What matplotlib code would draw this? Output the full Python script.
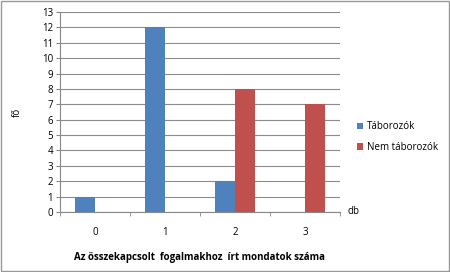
import numpy as np
import matplotlib
matplotlib.use('Agg')
import matplotlib.pyplot as plt
from matplotlib.patches import Rectangle

categories = ['0', '1', '2', '3']
taborozok = [1, 12, 2, 0]
nem_taborozok = [0, 0, 8, 7]

plt.rcParams['font.family'] = ['Open Sans', 'DejaVu Sans']

fig = plt.figure(figsize=(4.5, 2.72), dpi=100)
ax = fig.add_axes([60 / 450, 1 - 212 / 272, 280 / 450, 200 / 272])

x = np.arange(len(categories))
w = 0.286
ax.bar(x - w / 2, taborozok, w, color='#4F81BD', label='Táborozók', zorder=3)
ax.bar(x + w / 2, nem_taborozok, w, color='#C0504D', label='Nem táborozók', zorder=3)

ax.set_xlim(-0.5, 3.5)
ax.set_ylim(0, 13)
ax.set_yticks(range(0, 14))
ax.tick_params(axis='y', labelsize=7, length=3, color='#888888', pad=2)
ax.set_xticks(x)
ax.set_xticklabels(categories, fontsize=7)
ax.tick_params(axis='x', length=0, pad=11)
ax.set_xticks(np.arange(-0.5, 4.0, 1), minor=True)
ax.tick_params(axis='x', which='minor', length=3, color='#888888')

ax.grid(axis='y', color='#8c8c8c', linewidth=0.8, zorder=0)
for s in ['top', 'right']:
    ax.spines[s].set_visible(False)
ax.spines['left'].set_color('#888888')
ax.spines['bottom'].set_color('#888888')

ax.set_ylabel('fő', fontsize=7, labelpad=14)
ax.set_xlabel('Az összekapcsolt  fogalmakhoz  írt mondatok száma',
              fontsize=7, fontweight='bold', labelpad=10)
ax.text(1.025, 0.0, 'db', transform=ax.transAxes, fontsize=7, va='center', ha='left')

ax.legend(loc='center left', bbox_to_anchor=(1.03, 0.375), frameon=False,
          fontsize=7, handlelength=0.6, handleheight=0.6, labelspacing=1.0,
          handletextpad=0.4)

fig.patches.append(Rectangle((0.002, 0.002), 0.996, 0.996, transform=fig.transFigure,
                             fill=False, edgecolor='#999999', linewidth=1))

fig.savefig('out.png', dpi=100)
